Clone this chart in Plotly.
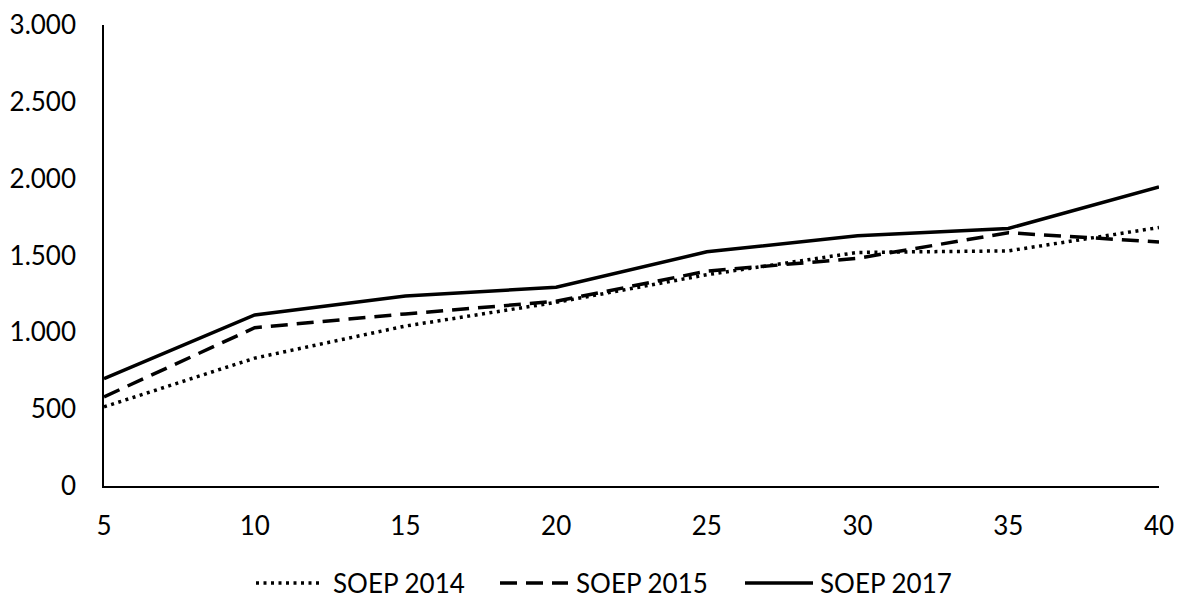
import plotly.graph_objects as go

x_vals = [5, 10, 15, 20, 25, 30, 35, 40]
soep_2014 = [515, 832, 1041, 1195, 1375, 1520, 1530, 1682]
soep_2015 = [580, 1030, 1120, 1202, 1398, 1482, 1648, 1588]
soep_2017 = [698, 1113, 1237, 1293, 1524, 1628, 1676, 1946]
y_ticks = [0, 500, 1000, 1500, 2000, 2500, 3000]
series_names = ["SOEP 2014", "SOEP 2015", "SOEP 2017"]

FONT = "Lato, Calibri, sans-serif"
FS = 26
DASHES = ["3px,4.5px", "17px,9px", "solid"]
LW = 3.5

fig = go.Figure()
for name, ys, dash in zip(series_names, [soep_2014, soep_2015, soep_2017], DASHES):
    fig.add_trace(go.Scatter(x=x_vals, y=ys, mode="lines", name=name,
                             showlegend=False,
                             line=dict(color="black", width=LW, dash=dash)))

# Page has an 8px body margin; figure sized so plot area lands at x 104..1159, y ~25..486
W, H = 1175, 590
L, T = 96, 17
plot_w, plot_h = 1055, 461
R = W - L - plot_w
B = H - T - plot_h

def px_to_paper_x(px):
    return (px - 8 - L) / plot_w

def py_to_paper_y(py):
    return (T + plot_h - (py - 8)) / plot_h

# Custom legend (line samples + real text), Excel-style long samples
legend_line_x = [(256, 320), (500, 568), (745, 813)]
legend_text_x = [331, 574, 818]
legend_y = py_to_paper_y(583)
shapes = []
annotations = []
for (x0, x1), tx, name, dash in zip(legend_line_x, legend_text_x, series_names, DASHES):
    shapes.append(dict(type="line", xref="paper", yref="paper",
                       x0=px_to_paper_x(x0), x1=px_to_paper_x(x1),
                       y0=legend_y, y1=legend_y,
                       line=dict(color="black", width=LW, dash=dash)))
    annotations.append(dict(xref="paper", yref="paper", x=px_to_paper_x(tx), y=legend_y,
                            xanchor="left", yanchor="middle", text=name, showarrow=False,
                            font=dict(family=FONT, size=FS, color="black")))

fig.update_layout(
    width=W, height=H,
    margin=dict(l=L, r=R, t=T, b=B, autoexpand=False),
    paper_bgcolor="white", plot_bgcolor="white",
    separators=",.",
    font=dict(family=FONT, size=FS, color="black"),
    showlegend=False,
    shapes=shapes,
    annotations=annotations,
)
fig.update_xaxes(range=[5, 40], tickmode="array", tickvals=x_vals,
                 ticktext=[str(v) for v in x_vals],
                 tickfont=dict(family=FONT, size=FS, color="black"),
                 showgrid=False, zeroline=False, showline=True, linecolor="black",
                 linewidth=2.25, ticks="", ticklabelstandoff=16,
                 automargin=False, ticklabeloverflow="allow")
fig.update_yaxes(range=[0, 3000], tickmode="array", tickvals=y_ticks,
                 tickformat=",d",
                 tickfont=dict(family=FONT, size=FS, color="black"),
                 showgrid=False, zeroline=False, showline=True, linecolor="black",
                 linewidth=1.5, ticks="", ticklabelstandoff=21,
                 automargin=False, ticklabeloverflow="allow")

fig.write_html("out.html")
